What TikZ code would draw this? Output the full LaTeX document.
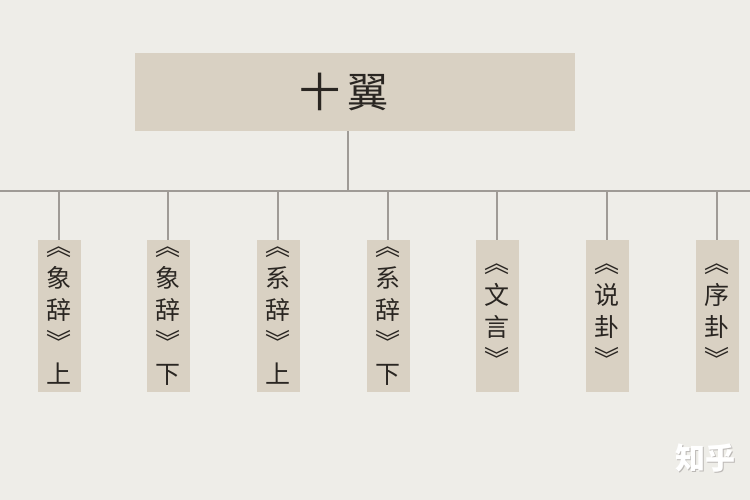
\documentclass[tikz,border=0pt]{standalone}
\usepackage{fontspec}
\newfontfamily\cjk{Noto Sans CJK SC}
\definecolor{bgc}{HTML}{EEEDE8}
\definecolor{boxc}{HTML}{D9D1C3}
\definecolor{linec}{HTML}{9F9B96}
\definecolor{inkc}{HTML}{2A2622}
\tikzset{
  topbox/.style={fill=boxc, draw=none, minimum width=440pt, minimum height=78pt, inner sep=0pt,
    font=\cjk\fontsize{41}{42}\selectfont, text=inkc},
  leaf/.style={fill=boxc, draw=none, minimum width=43pt, minimum height=152pt, inner sep=0pt,
    align=center, font=\cjk\fontsize{25}{32}\selectfont, text=inkc},
  conn/.style={draw=linec, line width=1.6pt},
  wmark/.style={font=\cjk\bfseries\fontsize{30}{30}\selectfont},
}
\begin{document}
\begin{tikzpicture}[x=1pt,y=-1pt]
\fill[bgc] (0,0) rectangle (750,500);
\useasboundingbox (0,0) rectangle (750,500);
\node[topbox] (root) at (355,92) {\hspace*{-22pt}十\hspace{8pt}翼};
\coordinate (barL) at (0,191);
\coordinate (barR) at (750,191);
\coordinate (barM) at (348,191);
\draw[conn] (barL) -- (barR);
\draw[conn] (root.south -| barM) -- (barM);
\foreach \i/\x/\t in {1/59/{︽\\象\\辞\\︾\\上},2/168/{︽\\象\\辞\\︾\\下},3/278/{︽\\系\\辞\\︾\\上},4/388/{︽\\系\\辞\\︾\\下},5/497/{︽\\文\\言\\︾},6/607/{︽\\说\\卦\\︾},7/717/{︽\\序\\卦\\︾}}{
  \node[leaf] (n\i) at (\x,316) {\t};
  \coordinate (b\i) at (\x,191);
  \draw[conn] (b\i) -- (n\i.north);
}
\node[wmark, text=linec!70] (wm0) at (706.5,459) {知乎};
\node[wmark, text=white] (wm) at (705.5,458) {知乎};
\end{tikzpicture}
\end{document}
